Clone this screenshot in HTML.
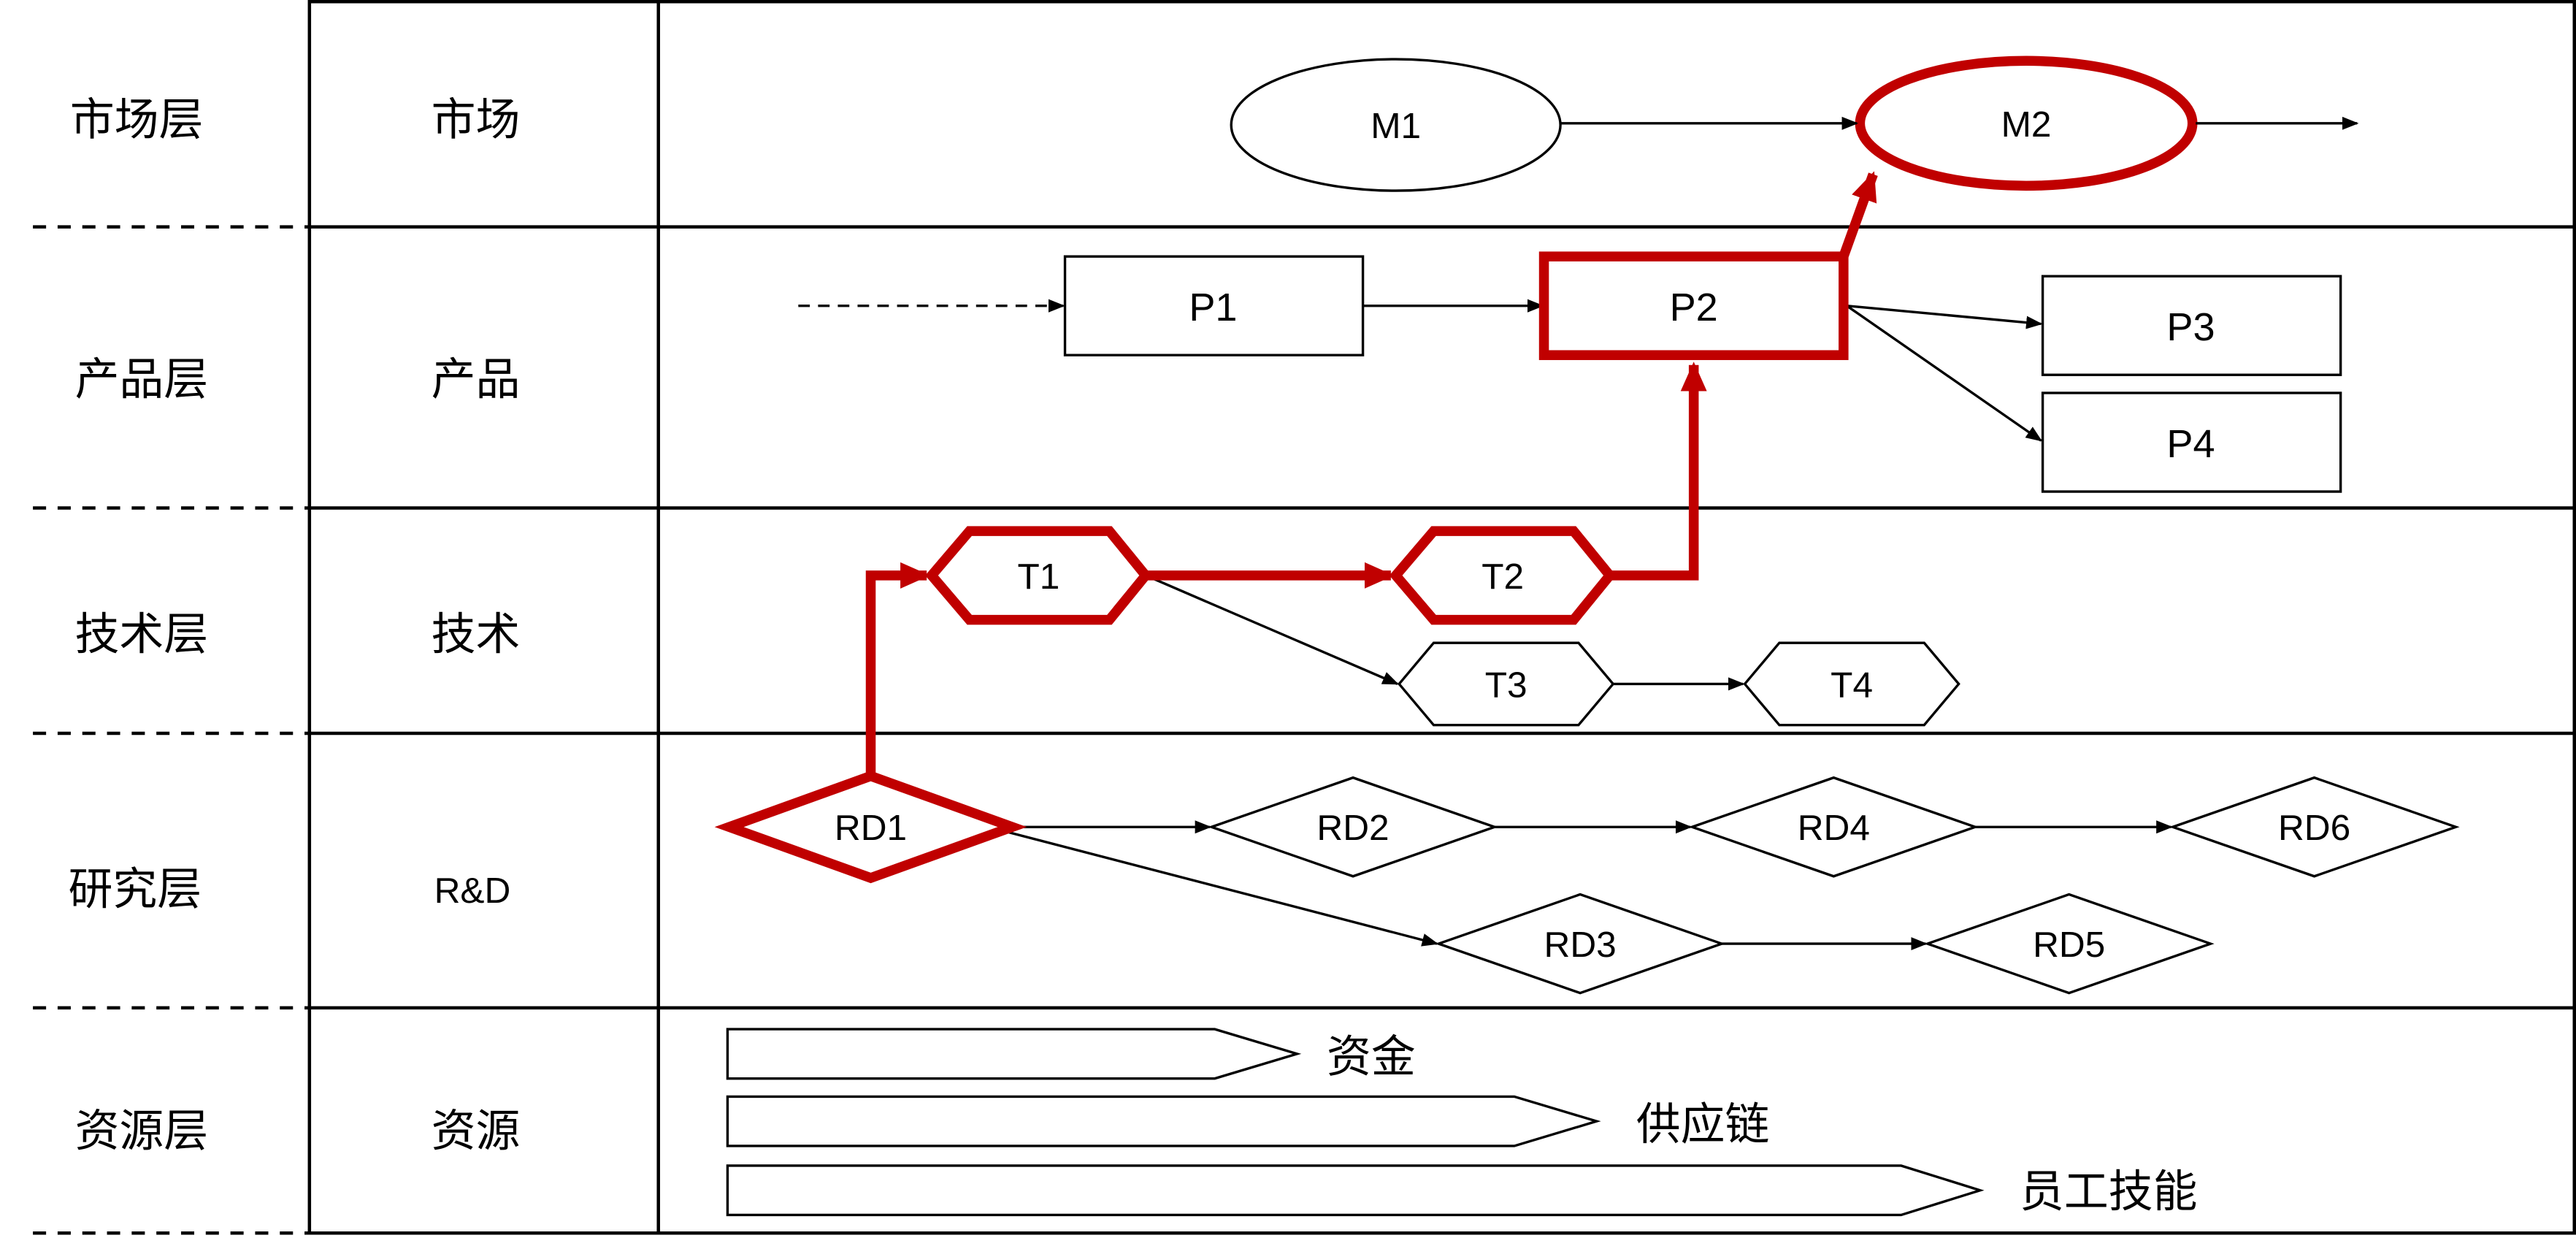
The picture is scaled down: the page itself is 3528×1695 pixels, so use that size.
<!DOCTYPE html>
<html><head><meta charset="utf-8"><style>
html,body{margin:0;padding:0;background:#fff;}
svg{display:block;}
text{font-family:"Liberation Sans","Noto Sans CJK SC",sans-serif;fill:#000;}
</style></head><body>
<svg width="3528" height="1695" viewBox="0 0 1565 753" preserveAspectRatio="none" xmlns="http://www.w3.org/2000/svg">
<defs>
<marker id="a" markerWidth="10" markerHeight="10" refX="9" refY="5" orient="auto" markerUnits="userSpaceOnUse" viewBox="0 0 10 10"><path d="M0,1 L10,5 L0,9 z" fill="#000"/></marker>
<marker id="r" markerWidth="18" markerHeight="18" refX="16" refY="9" orient="auto" markerUnits="userSpaceOnUse" viewBox="0 0 18 18"><path d="M0,1 L18,9 L0,17 z" fill="#c00000"/></marker>
</defs>
<rect width="1565" height="753" fill="#fff"/>
<!-- table -->
<g stroke="#000" stroke-width="2" fill="none">
<rect x="188" y="1" width="1376" height="749"/>
<line x1="400" y1="1" x2="400" y2="750"/>
<line x1="188" y1="138" x2="1564" y2="138"/>
<line x1="188" y1="309" x2="1564" y2="309"/>
<line x1="188" y1="446" x2="1564" y2="446"/>
<line x1="188" y1="613" x2="1564" y2="613"/>
</g>
<g stroke="#000" stroke-width="2" stroke-dasharray="8,7">
<line x1="20" y1="138" x2="188" y2="138"/>
<line x1="20" y1="309" x2="188" y2="309"/>
<line x1="20" y1="446" x2="188" y2="446"/>
<line x1="20" y1="613" x2="188" y2="613"/>
<line x1="20" y1="750" x2="188" y2="750"/>
</g>
<g font-size="27" text-anchor="middle">
<text x="83" y="82">市场层</text>
<text x="86" y="240">产品层</text>
<text x="86" y="395">技术层</text>
<text x="82" y="550">研究层</text>
<text x="86" y="697">资源层</text>
<text x="289" y="82">市场</text>
<text x="289" y="240">产品</text>
<text x="289" y="395">技术</text>
<text x="287" y="549" font-size="22">R&amp;D</text>
<text x="289" y="697">资源</text>
</g>
<!-- market -->
<ellipse cx="848" cy="76" rx="100" ry="40" fill="#fff" stroke="#000" stroke-width="1.5"/>
<ellipse cx="1231" cy="75" rx="101" ry="38" fill="#fff" stroke="#c00000" stroke-width="6"/>
<g stroke="#000" stroke-width="1.5" marker-end="url(#a)">
<line x1="948" y1="75" x2="1128" y2="75"/>
<line x1="1334" y1="75" x2="1432" y2="75"/>
<line x1="485" y1="186" x2="646" y2="186" stroke-dasharray="7,5"/>
<line x1="828" y1="186" x2="937" y2="186"/>
<line x1="1122" y1="186" x2="1240" y2="197"/>
<line x1="1122" y1="186" x2="1240" y2="268"/>
<line x1="696" y1="350" x2="849" y2="416"/>
<line x1="980" y1="416" x2="1059" y2="416"/>
<line x1="615" y1="503" x2="735" y2="503"/>
<line x1="908" y1="503" x2="1027" y2="503"/>
<line x1="1200" y1="503" x2="1319" y2="503"/>
<line x1="608" y1="505" x2="873" y2="574"/>
<line x1="1046" y1="574" x2="1170" y2="574"/>
</g>
<g font-size="22" text-anchor="middle">
<text x="848" y="84">M1</text>
<text x="1231" y="83">M2</text>
</g>
<!-- products -->
<g fill="#fff" stroke="#000" stroke-width="1.5">
<rect x="647" y="156" width="181" height="60"/>
<rect x="1241" y="168" width="181" height="60"/>
<rect x="1241" y="239" width="181" height="60"/>
</g>
<rect x="938" y="156" width="182" height="60" fill="#fff" stroke="#c00000" stroke-width="6"/>
<g font-size="24" text-anchor="middle">
<text x="737" y="195">P1</text>
<text x="1029" y="195">P2</text>
<text x="1331" y="207">P3</text>
<text x="1331" y="278">P4</text>
</g>
<!-- red path -->
<g stroke="#c00000" stroke-width="6" fill="none">
<line x1="1120" y1="156" x2="1138" y2="106" marker-end="url(#r)"/>
<line x1="696" y1="350" x2="845" y2="350" marker-end="url(#r)"/>
<polyline points="978,350 1029,350 1029,222" marker-end="url(#r)"/>
<polyline points="529,472 529,350 563,350" marker-end="url(#r)"/>
</g>
<!-- tech -->
<g fill="#fff">
<polygon points="566,350 589,323 674,323 696,350 674,377 589,377" stroke="#c00000" stroke-width="6"/>
<polygon points="848,350 871,323 956,323 978,350 956,377 871,377" stroke="#c00000" stroke-width="6"/>
<polygon points="850,416 871,391 959,391 980,416 959,441 871,441" stroke="#000" stroke-width="1.5"/>
<polygon points="1060,416 1081,391 1169,391 1190,416 1169,441 1081,441" stroke="#000" stroke-width="1.5"/>
</g>
<g font-size="22" text-anchor="middle">
<text x="631" y="358">T1</text>
<text x="913" y="358">T2</text>
<text x="915" y="424">T3</text>
<text x="1125" y="424">T4</text>
</g>
<!-- R&D -->
<g fill="#fff" stroke="#000" stroke-width="1.5">
<polygon points="736,503 822,473 908,503 822,533"/>
<polygon points="1028,503 1114,473 1200,503 1114,533"/>
<polygon points="1320,503 1406,473 1492,503 1406,533"/>
<polygon points="874,574 960,544 1046,574 960,604"/>
<polygon points="1171,574 1257,544 1343,574 1257,604"/>
</g>
<polygon points="443,503 529,472 615,503 529,534" fill="#fff" stroke="#c00000" stroke-width="6"/>
<g font-size="22" text-anchor="middle">
<text x="529" y="511">RD1</text>
<text x="822" y="511">RD2</text>
<text x="1114" y="511">RD4</text>
<text x="1406" y="511">RD6</text>
<text x="960" y="582">RD3</text>
<text x="1257" y="582">RD5</text>
</g>
<!-- resources -->
<g fill="#fff" stroke="#000" stroke-width="1.5">
<polygon points="442,626 738,626 788,641 738,656 442,656"/>
<polygon points="442,667 920,667 970,682 920,697 442,697"/>
<polygon points="442,709 1155,709 1203,724 1155,739 442,739"/>
</g>
<g font-size="27">
<text x="806" y="652">资金</text>
<text x="994" y="693">供应链</text>
<text x="1227" y="734">员工技能</text>
</g>
</svg>
</body></html>
